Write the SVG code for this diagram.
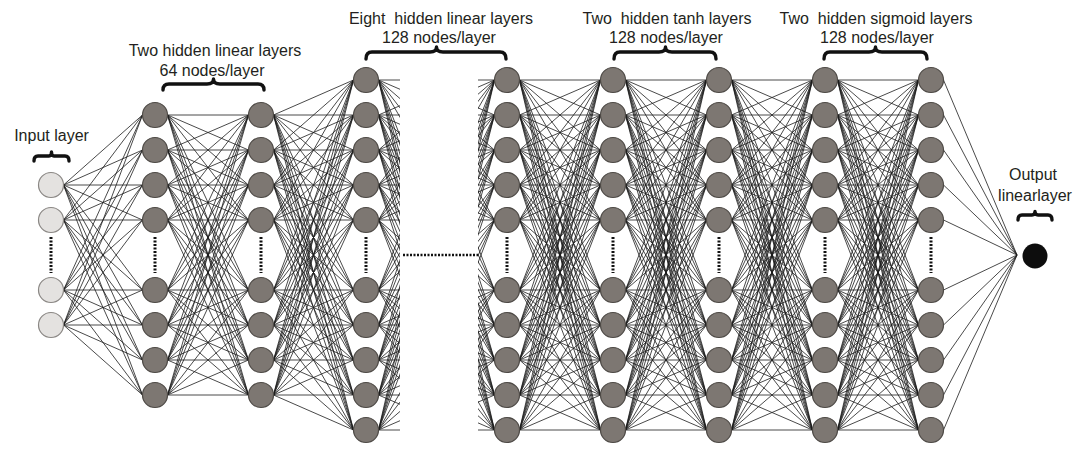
<svg xmlns="http://www.w3.org/2000/svg" xmlns:xlink="http://www.w3.org/1999/xlink" width="1076" height="451" viewBox="0 0 1076 451">
<style>
.e{fill:none;stroke:#1c1c1c;stroke-width:0.8}
.h{fill:#7d7772;stroke:#4d4945;stroke-width:1.2}
.i{fill:#e4e2e0;stroke:#8a8784;stroke-width:1.2}
.o{fill:#0d0d0d}
.d{stroke:#111;stroke-width:3;stroke-dasharray:2 1.5;fill:none}
.b{fill:none;stroke:#111;stroke-width:3.4;stroke-linecap:round;stroke-linejoin:round}
text{font-family:"Liberation Sans",Arial,sans-serif;font-size:16px;fill:#231f20;text-anchor:middle;white-space:pre}
</style>
<defs>
<path id="D" class="e" d="M0 80L81 80M0 80L81 115M0 80L81 150M0 80L81 185M0 80L81 220M0 80L81 290M0 80L81 325M0 80L81 360M0 80L81 395M0 80L81 430
M0 115L81 80M0 115L81 115M0 115L81 150M0 115L81 185M0 115L81 220M0 115L81 290M0 115L81 325M0 115L81 360M0 115L81 395M0 115L81 430
M0 150L81 80M0 150L81 115M0 150L81 150M0 150L81 185M0 150L81 220M0 150L81 290M0 150L81 325M0 150L81 360M0 150L81 395M0 150L81 430
M0 185L81 80M0 185L81 115M0 185L81 150M0 185L81 185M0 185L81 220M0 185L81 290M0 185L81 325M0 185L81 360M0 185L81 395M0 185L81 430
M0 220L81 80M0 220L81 115M0 220L81 150M0 220L81 185M0 220L81 220M0 220L81 290M0 220L81 325M0 220L81 360M0 220L81 395M0 220L81 430
M0 290L81 80M0 290L81 115M0 290L81 150M0 290L81 185M0 290L81 220M0 290L81 290M0 290L81 325M0 290L81 360M0 290L81 395M0 290L81 430
M0 325L81 80M0 325L81 115M0 325L81 150M0 325L81 185M0 325L81 220M0 325L81 290M0 325L81 325M0 325L81 360M0 325L81 395M0 325L81 430
M0 360L81 80M0 360L81 115M0 360L81 150M0 360L81 185M0 360L81 220M0 360L81 290M0 360L81 325M0 360L81 360M0 360L81 395M0 360L81 430
M0 395L81 80M0 395L81 115M0 395L81 150M0 395L81 185M0 395L81 220M0 395L81 290M0 395L81 325M0 395L81 360M0 395L81 395M0 395L81 430
M0 430L81 80M0 430L81 115M0 430L81 150M0 430L81 185M0 430L81 220M0 430L81 290M0 430L81 325M0 430L81 360M0 430L81 395M0 430L81 430"/>
<clipPath id="cl"><rect x="370" y="0" width="30" height="451"/></clipPath>
<clipPath id="cr"><rect x="478" y="0" width="20" height="451"/></clipPath>
</defs>
<rect width="1076" height="451" fill="#fff"/>
<g id="connectors">
<path class="e" d="M63.5 185L142.5 115M63.5 185L142.5 150M63.5 185L142.5 185M63.5 185L142.5 220M63.5 185L142.5 290M63.5 185L142.5 325M63.5 185L142.5 360M63.5 185L142.5 395
M63.5 220L142.5 115M63.5 220L142.5 150M63.5 220L142.5 185M63.5 220L142.5 220M63.5 220L142.5 290M63.5 220L142.5 325M63.5 220L142.5 360M63.5 220L142.5 395
M63.5 290L142.5 115M63.5 290L142.5 150M63.5 290L142.5 185M63.5 290L142.5 220M63.5 290L142.5 290M63.5 290L142.5 325M63.5 290L142.5 360M63.5 290L142.5 395
M63.5 325L142.5 115M63.5 325L142.5 150M63.5 325L142.5 185M63.5 325L142.5 220M63.5 325L142.5 290M63.5 325L142.5 325M63.5 325L142.5 360M63.5 325L142.5 395"/>
<path class="e" d="M167.5 115L248.5 115M167.5 115L248.5 150M167.5 115L248.5 185M167.5 115L248.5 220M167.5 115L248.5 290M167.5 115L248.5 325M167.5 115L248.5 360M167.5 115L248.5 395
M167.5 150L248.5 115M167.5 150L248.5 150M167.5 150L248.5 185M167.5 150L248.5 220M167.5 150L248.5 290M167.5 150L248.5 325M167.5 150L248.5 360M167.5 150L248.5 395
M167.5 185L248.5 115M167.5 185L248.5 150M167.5 185L248.5 185M167.5 185L248.5 220M167.5 185L248.5 290M167.5 185L248.5 325M167.5 185L248.5 360M167.5 185L248.5 395
M167.5 220L248.5 115M167.5 220L248.5 150M167.5 220L248.5 185M167.5 220L248.5 220M167.5 220L248.5 290M167.5 220L248.5 325M167.5 220L248.5 360M167.5 220L248.5 395
M167.5 290L248.5 115M167.5 290L248.5 150M167.5 290L248.5 185M167.5 290L248.5 220M167.5 290L248.5 290M167.5 290L248.5 325M167.5 290L248.5 360M167.5 290L248.5 395
M167.5 325L248.5 115M167.5 325L248.5 150M167.5 325L248.5 185M167.5 325L248.5 220M167.5 325L248.5 290M167.5 325L248.5 325M167.5 325L248.5 360M167.5 325L248.5 395
M167.5 360L248.5 115M167.5 360L248.5 150M167.5 360L248.5 185M167.5 360L248.5 220M167.5 360L248.5 290M167.5 360L248.5 325M167.5 360L248.5 360M167.5 360L248.5 395
M167.5 395L248.5 115M167.5 395L248.5 150M167.5 395L248.5 185M167.5 395L248.5 220M167.5 395L248.5 290M167.5 395L248.5 325M167.5 395L248.5 360M167.5 395L248.5 395"/>
<path class="e" d="M273.5 115L353.5 80M273.5 115L353.5 115M273.5 115L353.5 150M273.5 115L353.5 185M273.5 115L353.5 220M273.5 115L353.5 290M273.5 115L353.5 325M273.5 115L353.5 360M273.5 115L353.5 395M273.5 115L353.5 430
M273.5 150L353.5 80M273.5 150L353.5 115M273.5 150L353.5 150M273.5 150L353.5 185M273.5 150L353.5 220M273.5 150L353.5 290M273.5 150L353.5 325M273.5 150L353.5 360M273.5 150L353.5 395M273.5 150L353.5 430
M273.5 185L353.5 80M273.5 185L353.5 115M273.5 185L353.5 150M273.5 185L353.5 185M273.5 185L353.5 220M273.5 185L353.5 290M273.5 185L353.5 325M273.5 185L353.5 360M273.5 185L353.5 395M273.5 185L353.5 430
M273.5 220L353.5 80M273.5 220L353.5 115M273.5 220L353.5 150M273.5 220L353.5 185M273.5 220L353.5 220M273.5 220L353.5 290M273.5 220L353.5 325M273.5 220L353.5 360M273.5 220L353.5 395M273.5 220L353.5 430
M273.5 290L353.5 80M273.5 290L353.5 115M273.5 290L353.5 150M273.5 290L353.5 185M273.5 290L353.5 220M273.5 290L353.5 290M273.5 290L353.5 325M273.5 290L353.5 360M273.5 290L353.5 395M273.5 290L353.5 430
M273.5 325L353.5 80M273.5 325L353.5 115M273.5 325L353.5 150M273.5 325L353.5 185M273.5 325L353.5 220M273.5 325L353.5 290M273.5 325L353.5 325M273.5 325L353.5 360M273.5 325L353.5 395M273.5 325L353.5 430
M273.5 360L353.5 80M273.5 360L353.5 115M273.5 360L353.5 150M273.5 360L353.5 185M273.5 360L353.5 220M273.5 360L353.5 290M273.5 360L353.5 325M273.5 360L353.5 360M273.5 360L353.5 395M273.5 360L353.5 430
M273.5 395L353.5 80M273.5 395L353.5 115M273.5 395L353.5 150M273.5 395L353.5 185M273.5 395L353.5 220M273.5 395L353.5 290M273.5 395L353.5 325M273.5 395L353.5 360M273.5 395L353.5 395M273.5 395L353.5 430"/>
<g clip-path="url(#cl)"><use href="#D" xlink:href="#D" x="378.5"/></g>
<g clip-path="url(#cr)"><use href="#D" xlink:href="#D" x="413.5"/></g>
<use href="#D" xlink:href="#D" x="519.5"/>
<use href="#D" xlink:href="#D" x="625.5"/>
<use href="#D" xlink:href="#D" x="731.5"/>
<use href="#D" xlink:href="#D" x="837.5"/>
<path class="e" d="M943.5 80L1017 255M943.5 115L1017 255M943.5 150L1017 255M943.5 185L1017 255M943.5 220L1017 255M943.5 290L1017 255M943.5 325L1017 255M943.5 360L1017 255M943.5 395L1017 255M943.5 430L1017 255"/>
<line class="d" x1="403" y1="255" x2="478" y2="255" style="stroke-width:2.5"/>
</g>
<g id="input-layer">
<g id="in1"><circle class="i" cx="51" cy="185" r="12.5"/></g>
<g id="in2"><circle class="i" cx="51" cy="220" r="12.5"/></g>
<g id="in3"><circle class="i" cx="51" cy="290" r="12.5"/></g>
<g id="in4"><circle class="i" cx="51" cy="325" r="12.5"/></g>
<line class="d" x1="51" y1="237" x2="51" y2="273"/>
</g>
<g id="hidden-linear-64-1">
<g id="h1n1"><circle class="h" cx="155" cy="115" r="12.5"/></g>
<g id="h1n2"><circle class="h" cx="155" cy="150" r="12.5"/></g>
<g id="h1n3"><circle class="h" cx="155" cy="185" r="12.5"/></g>
<g id="h1n4"><circle class="h" cx="155" cy="220" r="12.5"/></g>
<g id="h1n5"><circle class="h" cx="155" cy="290" r="12.5"/></g>
<g id="h1n6"><circle class="h" cx="155" cy="325" r="12.5"/></g>
<g id="h1n7"><circle class="h" cx="155" cy="360" r="12.5"/></g>
<g id="h1n8"><circle class="h" cx="155" cy="395" r="12.5"/></g>
<line class="d" x1="155" y1="237" x2="155" y2="273"/>
</g>
<g id="hidden-linear-64-2">
<g id="h2n1"><circle class="h" cx="261" cy="115" r="12.5"/></g>
<g id="h2n2"><circle class="h" cx="261" cy="150" r="12.5"/></g>
<g id="h2n3"><circle class="h" cx="261" cy="185" r="12.5"/></g>
<g id="h2n4"><circle class="h" cx="261" cy="220" r="12.5"/></g>
<g id="h2n5"><circle class="h" cx="261" cy="290" r="12.5"/></g>
<g id="h2n6"><circle class="h" cx="261" cy="325" r="12.5"/></g>
<g id="h2n7"><circle class="h" cx="261" cy="360" r="12.5"/></g>
<g id="h2n8"><circle class="h" cx="261" cy="395" r="12.5"/></g>
<line class="d" x1="261" y1="237" x2="261" y2="273"/>
</g>
<g id="hidden-linear-128-first">
<g id="h3n1"><circle class="h" cx="366" cy="80" r="12.5"/></g>
<g id="h3n2"><circle class="h" cx="366" cy="115" r="12.5"/></g>
<g id="h3n3"><circle class="h" cx="366" cy="150" r="12.5"/></g>
<g id="h3n4"><circle class="h" cx="366" cy="185" r="12.5"/></g>
<g id="h3n5"><circle class="h" cx="366" cy="220" r="12.5"/></g>
<g id="h3n6"><circle class="h" cx="366" cy="290" r="12.5"/></g>
<g id="h3n7"><circle class="h" cx="366" cy="325" r="12.5"/></g>
<g id="h3n8"><circle class="h" cx="366" cy="360" r="12.5"/></g>
<g id="h3n9"><circle class="h" cx="366" cy="395" r="12.5"/></g>
<g id="h3n10"><circle class="h" cx="366" cy="430" r="12.5"/></g>
<line class="d" x1="366" y1="237" x2="366" y2="273"/>
</g>
<g id="hidden-linear-128-last">
<g id="h4n1"><circle class="h" cx="507" cy="80" r="12.5"/></g>
<g id="h4n2"><circle class="h" cx="507" cy="115" r="12.5"/></g>
<g id="h4n3"><circle class="h" cx="507" cy="150" r="12.5"/></g>
<g id="h4n4"><circle class="h" cx="507" cy="185" r="12.5"/></g>
<g id="h4n5"><circle class="h" cx="507" cy="220" r="12.5"/></g>
<g id="h4n6"><circle class="h" cx="507" cy="290" r="12.5"/></g>
<g id="h4n7"><circle class="h" cx="507" cy="325" r="12.5"/></g>
<g id="h4n8"><circle class="h" cx="507" cy="360" r="12.5"/></g>
<g id="h4n9"><circle class="h" cx="507" cy="395" r="12.5"/></g>
<g id="h4n10"><circle class="h" cx="507" cy="430" r="12.5"/></g>
<line class="d" x1="507" y1="237" x2="507" y2="273"/>
</g>
<g id="hidden-tanh-1">
<g id="h5n1"><circle class="h" cx="613" cy="80" r="12.5"/></g>
<g id="h5n2"><circle class="h" cx="613" cy="115" r="12.5"/></g>
<g id="h5n3"><circle class="h" cx="613" cy="150" r="12.5"/></g>
<g id="h5n4"><circle class="h" cx="613" cy="185" r="12.5"/></g>
<g id="h5n5"><circle class="h" cx="613" cy="220" r="12.5"/></g>
<g id="h5n6"><circle class="h" cx="613" cy="290" r="12.5"/></g>
<g id="h5n7"><circle class="h" cx="613" cy="325" r="12.5"/></g>
<g id="h5n8"><circle class="h" cx="613" cy="360" r="12.5"/></g>
<g id="h5n9"><circle class="h" cx="613" cy="395" r="12.5"/></g>
<g id="h5n10"><circle class="h" cx="613" cy="430" r="12.5"/></g>
<line class="d" x1="613" y1="237" x2="613" y2="273"/>
</g>
<g id="hidden-tanh-2">
<g id="h6n1"><circle class="h" cx="719" cy="80" r="12.5"/></g>
<g id="h6n2"><circle class="h" cx="719" cy="115" r="12.5"/></g>
<g id="h6n3"><circle class="h" cx="719" cy="150" r="12.5"/></g>
<g id="h6n4"><circle class="h" cx="719" cy="185" r="12.5"/></g>
<g id="h6n5"><circle class="h" cx="719" cy="220" r="12.5"/></g>
<g id="h6n6"><circle class="h" cx="719" cy="290" r="12.5"/></g>
<g id="h6n7"><circle class="h" cx="719" cy="325" r="12.5"/></g>
<g id="h6n8"><circle class="h" cx="719" cy="360" r="12.5"/></g>
<g id="h6n9"><circle class="h" cx="719" cy="395" r="12.5"/></g>
<g id="h6n10"><circle class="h" cx="719" cy="430" r="12.5"/></g>
<line class="d" x1="719" y1="237" x2="719" y2="273"/>
</g>
<g id="hidden-sigmoid-1">
<g id="h7n1"><circle class="h" cx="825" cy="80" r="12.5"/></g>
<g id="h7n2"><circle class="h" cx="825" cy="115" r="12.5"/></g>
<g id="h7n3"><circle class="h" cx="825" cy="150" r="12.5"/></g>
<g id="h7n4"><circle class="h" cx="825" cy="185" r="12.5"/></g>
<g id="h7n5"><circle class="h" cx="825" cy="220" r="12.5"/></g>
<g id="h7n6"><circle class="h" cx="825" cy="290" r="12.5"/></g>
<g id="h7n7"><circle class="h" cx="825" cy="325" r="12.5"/></g>
<g id="h7n8"><circle class="h" cx="825" cy="360" r="12.5"/></g>
<g id="h7n9"><circle class="h" cx="825" cy="395" r="12.5"/></g>
<g id="h7n10"><circle class="h" cx="825" cy="430" r="12.5"/></g>
<line class="d" x1="825" y1="237" x2="825" y2="273"/>
</g>
<g id="hidden-sigmoid-2">
<g id="h8n1"><circle class="h" cx="931" cy="80" r="12.5"/></g>
<g id="h8n2"><circle class="h" cx="931" cy="115" r="12.5"/></g>
<g id="h8n3"><circle class="h" cx="931" cy="150" r="12.5"/></g>
<g id="h8n4"><circle class="h" cx="931" cy="185" r="12.5"/></g>
<g id="h8n5"><circle class="h" cx="931" cy="220" r="12.5"/></g>
<g id="h8n6"><circle class="h" cx="931" cy="290" r="12.5"/></g>
<g id="h8n7"><circle class="h" cx="931" cy="325" r="12.5"/></g>
<g id="h8n8"><circle class="h" cx="931" cy="360" r="12.5"/></g>
<g id="h8n9"><circle class="h" cx="931" cy="395" r="12.5"/></g>
<g id="h8n10"><circle class="h" cx="931" cy="430" r="12.5"/></g>
<line class="d" x1="931" y1="237" x2="931" y2="273"/>
</g>
<g id="output-node"><circle class="o" cx="1035" cy="256" r="12.5"/></g>
<g id="braces">
<path class="b" d="M34 161Q34 156 38 156L49 156Q51.5 156 51.5 152Q51.5 156 54 156L65 156Q69 156 69 161"/>
<path class="b" d="M163 90Q163 84 169 84L207 84Q213.5 84 213.5 79Q213.5 84 220 84L258 84Q264 84 264 90"/>
<path class="b" d="M366 59Q366 52 372 52L430 52Q436.5 52 436.5 47Q436.5 52 443 52L500 52Q506 52 506 59"/>
<path class="b" d="M614 59Q614 52 620 52L659 52Q665.5 52 665.5 47Q665.5 52 672 52L710 52Q716 52 716 59"/>
<path class="b" d="M824 59Q824 52 830 52L869 52Q875.5 52 875.5 47Q875.5 52 882 52L921 52Q927 52 927 59"/>
<path class="b" d="M1018 220Q1018 215 1022 215L1032 215Q1035 215 1035 211.5Q1035 215 1038 215L1048 215Q1052 215 1052 220"/>
</g>
<g id="labels">
<text x="51.5" y="141">Input layer</text>
<text x="215" y="56">Two hidden linear layers</text>
<text x="212" y="76">64 nodes/layer</text>
<text x="441" y="24" xml:space="preserve">Eight  hidden linear layers</text>
<text x="439" y="43">128 nodes/layer</text>
<text x="667" y="24" xml:space="preserve">Two  hidden tanh layers</text>
<text x="666" y="43">128 nodes/layer</text>
<text x="876" y="24" xml:space="preserve">Two  hidden sigmoid layers</text>
<text x="877" y="43">128 nodes/layer</text>
<text x="1033" y="180">Output</text>
<text x="1035" y="201">linearlayer</text>
</g>
</svg>
